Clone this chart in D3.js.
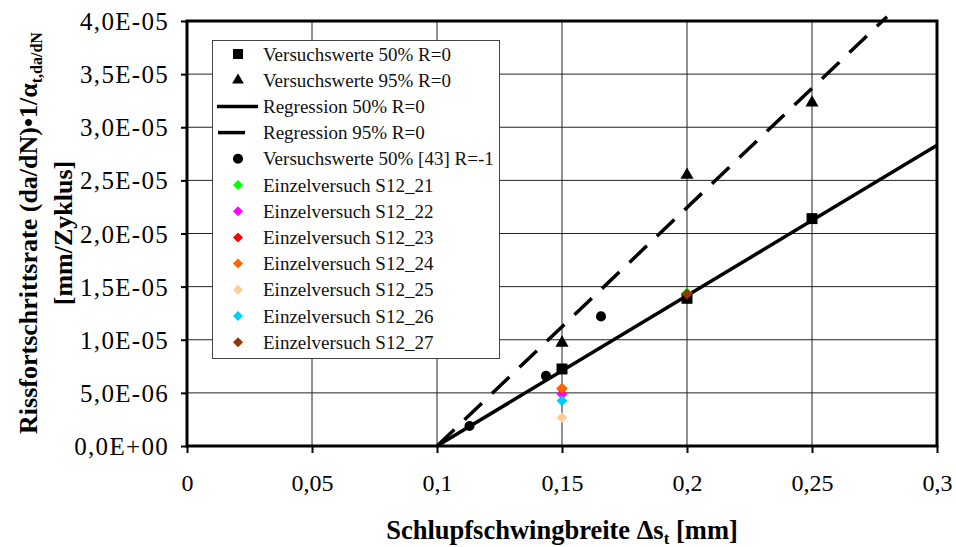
<!DOCTYPE html>
<html>
<head>
<meta charset="utf-8">
<script src="https://cdn.jsdelivr.net/npm/d3@7"></script>
<style>
  body { margin: 0; background: #fff; }
  svg { display: block; font-family: "Liberation Serif", "Times New Roman", serif; }
</style>
</head>
<body>
<div id="chart"></div>
<script>
// Werte
const xTicks = [0, 0.05, 0.1, 0.15, 0.2, 0.25, 0.3];
const xTickLabels = ["0", "0,05", "0,1", "0,15", "0,2", "0,25", "0,3"];
const yTicks = [0, 5e-6, 1e-5, 1.5e-5, 2e-5, 2.5e-5, 3e-5, 3.5e-5, 4e-5];
const yTickLabels = ["0,0E+00", "5,0E-06", "1,0E-05", "1,5E-05", "2,0E-05", "2,5E-05", "3,0E-05", "3,5E-05", "4,0E-05"];

const versuch50 = [[0.15, 7.25e-6], [0.2, 1.39e-5], [0.25, 2.14e-5]];
const versuch95 = [[0.15, 9.7e-6], [0.2, 2.55e-5], [0.25, 3.23e-5]];
const regression50 = [[0.1, 0], [0.3, 2.83e-5]];
const regression95 = [[0.1, 0], [0.28, 4.04e-5]];
const versuch43 = [[0.113, 1.88e-6], [0.1436, 6.6e-6], [0.1656, 1.22e-5]];

const einzelNames = ["S12_21", "S12_22", "S12_23", "S12_24", "S12_25", "S12_26", "S12_27"];
const einzelColors = ["#00ff00", "#ff00ff", "#ff0000", "#ff6600", "#ffcc99", "#00ccff", "#993300"];
const einzelPoints = [
  [[0.2, 1.44e-5]],
  [[0.15, 4.9e-6]],
  [[0.15, 5.4e-6]],
  [[0.15, 5.43e-6]],
  [[0.15, 2.67e-6]],
  [[0.15, 4.26e-6]],
  [[0.2, 1.43e-5]]
];

// Zeichenfläche
const W = 956, H = 547;
const svg = d3.select("#chart").append("svg").attr("width", W).attr("height", H);

const x = d3.scaleLinear().domain([0, 0.3]).range([187, 937]);
const y = d3.scaleLinear().domain([0, 4e-5]).range([446, 21]);

// Gitter
svg.append("g").selectAll("line").data(yTicks.slice(1)).join("line")
  .attr("x1", x(0)).attr("x2", x(0.3))
  .attr("y1", d => y(d)).attr("y2", d => y(d))
  .attr("stroke", "#222").attr("stroke-width", 1);
svg.append("g").selectAll("line").data(xTicks.slice(1)).join("line")
  .attr("x1", d => x(d)).attr("x2", d => x(d))
  .attr("y1", y(0)).attr("y2", y(4e-5))
  .attr("stroke", "#222").attr("stroke-width", 1);

// Achsen
const xAxis = d3.axisBottom(x).tickValues(xTicks)
  .tickFormat((d, i) => xTickLabels[i]).tickSize(7).tickSizeOuter(0);
const yAxis = d3.axisLeft(y).tickValues(yTicks)
  .tickFormat((d, i) => yTickLabels[i]).tickSize(6).tickSizeOuter(0);

const gx = svg.append("g").attr("transform", `translate(0,${y(0)})`).call(xAxis);
const gy = svg.append("g").attr("transform", `translate(${x(0)},0)`).call(yAxis);
[gx, gy].forEach(g => {
  g.select(".domain").remove();
  g.selectAll(".tick line").attr("stroke", "#000").attr("stroke-width", 2);
  g.selectAll("text").attr("fill", "#000")
    .style("font-family", "Liberation Serif, serif").style("font-size", "24px");
});
gx.selectAll("text").attr("dy", "1.45em");
gy.selectAll("text").attr("x", -18).attr("dy", "0.34em")
  .style("font-size", "25px").style("letter-spacing", "1.3px");

// Rahmen
svg.append("rect")
  .attr("x", x(0)).attr("y", y(4e-5))
  .attr("width", x(0.3) - x(0)).attr("height", y(0) - y(4e-5))
  .attr("fill", "none").attr("stroke", "#000").attr("stroke-width", 3);

// Regressionsgeraden
const line = d3.line().x(d => x(d[0])).y(d => y(d[1]));
svg.append("path").datum(regression50).attr("d", line)
  .attr("fill", "none").attr("stroke", "#000").attr("stroke-width", 3.5);
svg.append("path").datum(regression95).attr("d", line)
  .attr("fill", "none").attr("stroke", "#000").attr("stroke-width", 3.5)
  .attr("stroke-dasharray", "24,14");

// Punkte
const sym = (type, size) => d3.symbol().type(type).size(size)();
function drawPoints(data, type, size, color, rot) {
  svg.append("g").selectAll("path").data(data).join("path")
    .attr("d", sym(type, size))
    .attr("transform", d => `translate(${x(d[0])},${y(d[1])}) rotate(${rot || 0})`)
    .attr("fill", color);
}
drawPoints(versuch50, d3.symbolSquare, 120, "#000");
drawPoints(versuch95, d3.symbolTriangle, 75, "#000");
drawPoints(versuch43, d3.symbolCircle, 80, "#000");
einzelPoints.forEach((pts, i) => drawPoints(pts, d3.symbolSquare, 60, einzelColors[i], 45));

// Legende
const lg = svg.append("g");
lg.append("rect").attr("x", 212.5).attr("y", 40.5).attr("width", 287).attr("height", 318)
  .attr("fill", "#fff").attr("stroke", "#444").attr("stroke-width", 1);

const legendItems = [
  { label: "Versuchswerte 50% R=0", kind: "sym", type: d3.symbolSquare, size: 100, color: "#000" },
  { label: "Versuchswerte 95% R=0", kind: "sym", type: d3.symbolTriangle, size: 60, color: "#000" },
  { label: "Regression 50% R=0", kind: "line", x1: 217, x2: 258 },
  { label: "Regression 95% R=0", kind: "line", x1: 218, x2: 245 },
  { label: "Versuchswerte 50% [43] R=-1", kind: "sym", type: d3.symbolCircle, size: 80, color: "#000" }
].concat(einzelNames.map((n, i) => ({
  label: "Einzelversuch " + n, kind: "sym", type: d3.symbolSquare, size: 50, color: einzelColors[i], rot: 45
})));

legendItems.forEach((it, i) => {
  const cy = 54 + i * 26.2;
  if (it.kind === "line") {
    lg.append("line").attr("x1", it.x1).attr("x2", it.x2).attr("y1", cy).attr("y2", cy)
      .attr("stroke", "#000").attr("stroke-width", 3.5);
  } else {
    lg.append("path").attr("d", sym(it.type, it.size))
      .attr("transform", `translate(238,${cy}) rotate(${it.rot || 0})`)
      .attr("fill", it.color);
  }
  lg.append("text").attr("x", 263).attr("y", cy + 6.5)
    .style("font-size", "19px").attr("fill", "#111").text(it.label);
});

// Achsentitel
const xt = svg.append("text").attr("x", 562).attr("y", 539).attr("text-anchor", "middle")
  .style("font-size", "26.5px").style("font-weight", "bold");
xt.append("tspan").text("Schlupfschwingbreite Δs");
xt.append("tspan").attr("dy", 5).style("font-size", "17px").text("t");
xt.append("tspan").attr("dy", -5).text(" [mm]");

const yt = svg.append("text").attr("transform", "translate(37,233) rotate(-90)")
  .attr("text-anchor", "middle").style("font-size", "26px").style("font-weight", "bold");
yt.append("tspan").text("Rissfortschrittsrate (da/dN)•1/α");
yt.append("tspan").attr("dy", 5).style("font-size", "16px").text("t,da/dN");

svg.append("text").attr("transform", "translate(72,233) rotate(-90)")
  .attr("text-anchor", "middle").style("font-size", "26px").style("font-weight", "bold")
  .text("[mm/Zyklus]");
</script>
</body>
</html>
